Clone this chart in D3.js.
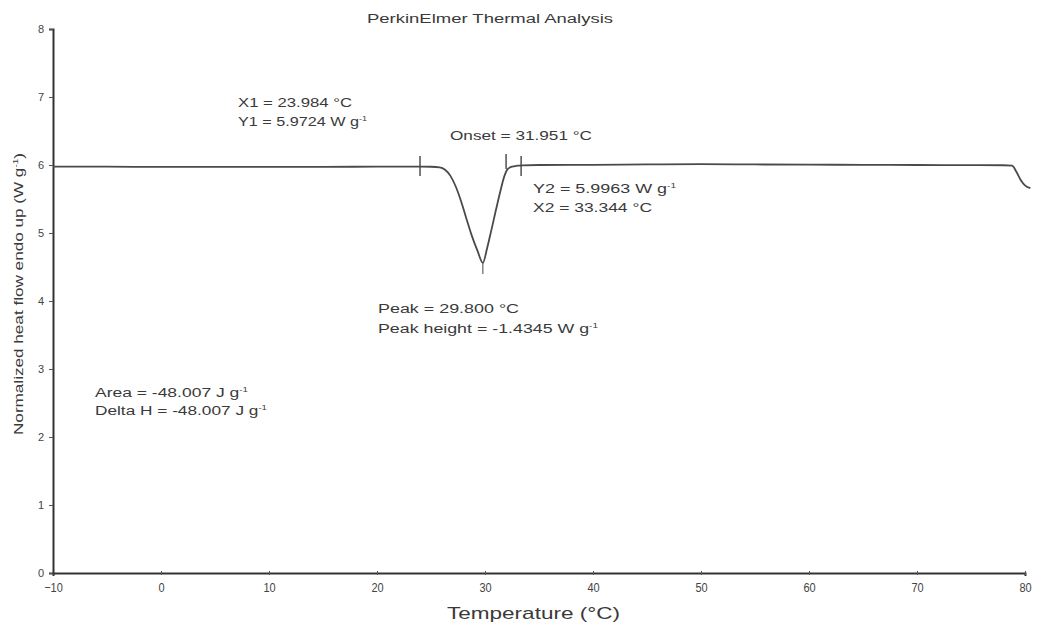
<!DOCTYPE html>
<html><head><meta charset="utf-8">
<script src="https://cdn.jsdelivr.net/npm/d3@7"></script>
<style>
html,body{margin:0;padding:0;background:#fff;}
text{font-family:"Liberation Sans",Arial,sans-serif;fill:#3a3a3a;}
</style></head>
<body>
<svg id="chart" width="1039" height="625"></svg>
<script>
// ---- data ----
const temperature = [-10, -5, 0, 5, 10, 15, 20, 23, 24, 25, 25.8, 26.3, 26.8, 27.3, 27.8, 28.3, 28.8, 29.3, 29.8, 30.2, 30.6, 31.0, 31.4, 31.8, 32.1, 32.5, 33.0, 33.5, 35, 40, 45, 50, 55, 60, 65, 70, 75, 78, 78.8, 79.2, 79.6, 80.0, 80.5];
const heatFlow    = [5.975, 5.975, 5.972, 5.972, 5.972, 5.973, 5.975, 5.976, 5.976, 5.974, 5.965, 5.93, 5.84, 5.68, 5.46, 5.2, 4.95, 4.74, 4.56, 4.78, 5.05, 5.33, 5.6, 5.84, 5.94, 5.975, 5.99, 5.995, 6.0, 6.003, 6.008, 6.012, 6.008, 6.005, 6.003, 6.0, 5.998, 5.996, 5.99, 5.9, 5.78, 5.7, 5.66];
const xTicks = [-10, 0, 10, 20, 30, 40, 50, 60, 70, 80];
const yTicks = [0, 1, 2, 3, 4, 5, 6, 7, 8];
const markerTemps = [23.984, 31.951, 33.344];
const peakTemp = 29.8;
const peakValue = 4.56;

const svg = d3.select("#chart");
const x = d3.scaleLinear().domain([-10, 80]).range([53, 1025]);
const y = d3.scaleLinear().domain([0, 8]).range([573, 29]);

// axes
const xAxis = d3.axisBottom(x).tickValues(xTicks).tickSize(3).tickFormat(d3.format("d"));
const gx = svg.append("g").attr("transform", `translate(0,${y(0)})`).call(xAxis);
gx.select(".domain").attr("stroke", "#333").attr("stroke-width", 2);
gx.selectAll(".tick line").attr("stroke", "#555").attr("y1", -2).attr("y2", 2);
gx.selectAll(".tick text").attr("y", 9).attr("font-size", 11).style("fill", "#444")
  .attr("transform", "scale(1,1.15)");

const yAxis = d3.axisLeft(y).tickValues(yTicks).tickSize(4).tickFormat(d3.format("d"));
const gy = svg.append("g").attr("transform", `translate(${x(-10)},0)`).call(yAxis);
gy.select(".domain").attr("stroke", "#333").attr("stroke-width", 2);
gy.selectAll(".tick line").attr("stroke", "#555");
gy.selectAll(".tick text").attr("x", -9).attr("font-size", 11).style("fill", "#444");

// curve
const line = d3.line().x((d, i) => x(temperature[i])).y(d => y(d)).curve(d3.curveMonotoneX);
svg.append("path").datum(heatFlow).attr("d", line)
  .attr("fill", "none").attr("stroke", "#4a4a4a").attr("stroke-width", 1.8);

// vertical markers
svg.selectAll(".mk").data(markerTemps).enter().append("line")
  .attr("x1", d => x(d)).attr("x2", d => x(d))
  .attr("y1", (d, i) => y(6) - (i === 1 ? 11 : 9)).attr("y2", (d, i) => y(6) + (i === 1 ? 4 : 11))
  .attr("stroke", "#444").attr("stroke-width", 1.4);
svg.append("line").attr("x1", x(peakTemp)).attr("x2", x(peakTemp))
  .attr("y1", y(peakValue)).attr("y2", y(peakValue) + 11)
  .attr("stroke", "#666").attr("stroke-width", 1.2);

// texts
function label(xp, yp, parts, len, size) {
  const t = svg.append("text").attr("x", xp).attr("y", yp).attr("font-size", size || 12.5);
  parts.forEach(p => {
    if (typeof p === "string") t.append("tspan").text(p);
    else t.append("tspan").attr("dy", -5).attr("font-size", 7).text(p.sup)
          .call(s => {});
  });
  if (len) t.attr("textLength", len).attr("lengthAdjust", "spacingAndGlyphs");
  return t;
}
label(367, 23, ["PerkinElmer Thermal Analysis"], 246, 12.5);
label(238, 107, ["X1 = 23.984 °C"], 114);
label(238, 126, ["Y1 = 5.9724 W g", {sup: "-1"}], 129);
label(450, 140, ["Onset = 31.951 °C"], 142);
label(533, 193, ["Y2 = 5.9963 W g", {sup: "-1"}], 143);
label(533, 212, ["X2 = 33.344 °C"], 119);
label(378, 313, ["Peak = 29.800 °C"], 141);
label(378, 333, ["Peak height = -1.4345 W g", {sup: "-1"}], 220);
label(95, 397, ["Area = -48.007 J g", {sup: "-1"}], 153);
label(95, 415, ["Delta H = -48.007 J g", {sup: "-1"}], 172);

// axis titles
svg.append("text").attr("x", 447).attr("y", 619).attr("font-size", 17)
  .attr("textLength", 173).attr("lengthAdjust", "spacingAndGlyphs").text("Temperature (°C)");
const yt = svg.append("text").attr("transform", "translate(23,435) rotate(-90)").attr("font-size", 12)
  .attr("textLength", 282).attr("lengthAdjust", "spacingAndGlyphs");
yt.append("tspan").text("Normalized heat flow endo up (W g");
yt.append("tspan").attr("dy", -5).attr("font-size", 7).text("-1");
yt.append("tspan").attr("dy", 5).text(")");
</script>
</body></html>
